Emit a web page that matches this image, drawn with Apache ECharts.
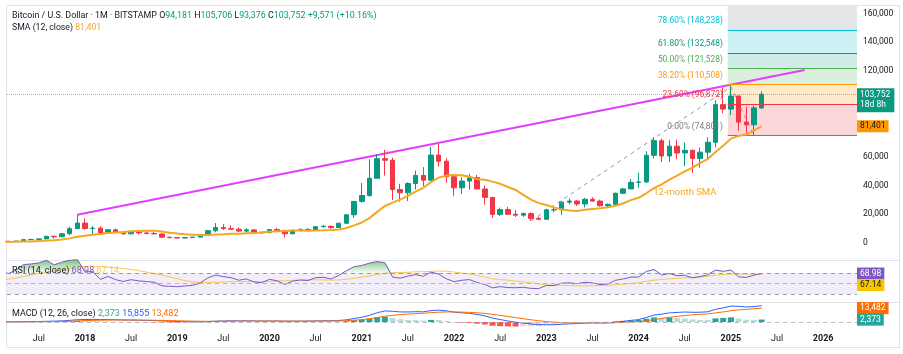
<!DOCTYPE html>
<html>
<head>
<meta charset="UTF-8" />
<title>Bitcoin / U.S. Dollar - 1M</title>
<script src="https://cdn.jsdelivr.net/npm/echarts@6/dist/echarts.min.js"></script>
<style>
  html, body { margin: 0; padding: 0; background: #fff; }
  #main { width: 903px; height: 354px; }
</style>
</head>
<body>
<div id="main"></div>
<script>
// monthly candles, index 0 = Jan 2017 ... index 100 = May 2025
const opens = [
  964, 970, 1190, 1080, 1350, 2300, 2480, 2875, 4720, 4340, 6450, 10000,
  13880, 10100, 10330, 6930, 9240, 7490, 6390, 7730, 7030, 6630, 6320, 4020,
  3740, 3440, 3830, 4100, 5330, 8570, 10820, 10080, 9590, 8290, 9150, 7540,
  7190, 9350, 8540, 6410, 8620, 9450, 9140, 11350, 11650, 10780, 13800, 19700,
  28990, 33100, 45140, 58800, 57700, 37300, 35040, 41460, 47100, 43790, 61300, 57000,
  46200, 38480, 43160, 45540, 37650, 31800, 19930, 23300, 20050, 19420, 20490, 17170,
  16540, 23130, 23150, 28480, 29250, 27220, 30480, 29230, 25940, 26970, 34660, 37720,
  42280, 42580, 61180, 71330, 60670, 67530, 62760, 64620, 58980, 63330, 70220, 96450,
  93390, 102430, 84300, 82400, 94181
];
const highs = [
  1153, 1200, 1280, 1370, 2790, 3000, 2950, 4770, 4980, 6450, 11400, 19666,
  17250, 11790, 11680, 9760, 10000, 7780, 8500, 7760, 7410, 7680, 6600, 4350,
  4070, 4200, 4150, 5600, 9100, 13880, 13200, 12330, 10930, 10370, 9510, 7750,
  9580, 10500, 9190, 9470, 10070, 10380, 11450, 12470, 12070, 14100, 19850, 29300,
  41950, 58350, 61780, 64900, 59500, 41300, 42300, 50500, 52900, 67000, 69000, 59050,
  47990, 45800, 48200, 47450, 40000, 31950, 24650, 25200, 22800, 21100, 21450, 18400,
  23950, 25270, 29200, 31000, 29850, 31430, 31800, 30200, 27500, 35200, 38420, 44700,
  49000, 64000, 73800, 72800, 71980, 72000, 70000, 65100, 66500, 73600, 99600, 108350,
  109350, 102700, 95000, 95700, 105706
];
const lows = [
  752, 915, 890, 1060, 1350, 2100, 1830, 2670, 2950, 4110, 5500, 10000,
  9200, 6000, 6600, 6430, 7050, 5780, 6090, 5880, 6100, 6200, 3650, 3120,
  3350, 3390, 3700, 4080, 5330, 7500, 9070, 9350, 7700, 7300, 6520, 6430,
  6850, 8450, 3850, 6150, 8110, 8900, 8970, 10900, 9880, 10430, 13220, 17600,
  28130, 32300, 45000, 47000, 30000, 28800, 29300, 37330, 39600, 43300, 53250, 42000,
  32900, 34300, 37200, 37700, 26700, 17600, 18800, 19550, 18150, 18200, 15480, 16260,
  16500, 21400, 19560, 26950, 25800, 24800, 28860, 25300, 24900, 26550, 34100, 37600,
  38550, 41880, 59000, 56500, 56550, 58450, 53500, 49000, 52550, 58900, 66800, 90500,
  89200, 78200, 76600, 74700, 93376
];
const closes = [
  970, 1190, 1080, 1350, 2300, 2480, 2875, 4720, 4340, 6450, 10000, 13880,
  10100, 10330, 6930, 9240, 7490, 6390, 7730, 7030, 6630, 6320, 4020, 3740,
  3440, 3830, 4100, 5330, 8570, 10820, 10080, 9590, 8290, 9150, 7540, 7190,
  9350, 8540, 6410, 8620, 9450, 9140, 11350, 11650, 10780, 13800, 19700, 28990,
  33100, 45140, 58800, 57700, 37300, 35040, 41460, 47100, 43790, 61300, 57000, 46200,
  38480, 43160, 45540, 37650, 31800, 19930, 23300, 20050, 19420, 20490, 17170, 16540,
  23130, 23150, 28480, 29250, 27220, 30480, 29230, 25940, 26970, 34660, 37720, 42280,
  42580, 61180, 71330, 60670, 67530, 62760, 64620, 58980, 63330, 70220, 96450, 93390,
  102430, 84300, 82400, 94181, 103752
];
// closes Jan 2014 .. Dec 2016, only used to warm up the indicators
const warmupCloses = [
  800, 550, 450, 445, 630, 640, 585, 480, 387, 338, 378, 320,
  217, 254, 244, 236, 230, 263, 284, 230, 236, 314, 377, 430,
  369, 437, 416, 448, 531, 673, 624, 574, 609, 700, 742, 964
];

const tickLabels = ['Jul', '2018', 'Jul', '2019', 'Jul', '2020', 'Jul', '2021', 'Jul',
  '2022', 'Jul', '2023', 'Jul', '2024', 'Jul', '2025', 'Jul', '2026'];
const priceTicks = [0, 20000, 40000, 60000, 80000, 100000, 120000, 140000, 160000];

// trend-based fib extension
const fibRatios = [0, 0.236, 0.382, 0.5, 0.618, 0.786, 1];
const fibPrices = [74801, 96872, 110508, 121528, 132548, 148238, 168251];
const fibPath = [[70, 15476], [96, 108926], [99, 74801]];
const fibStart = 95.6;
const trendLine = [[11, 19666], [105.6, 120600]];

const rsiLegend = [68.98, 67.14];
const macdLegend = [2373, 15855, 13482];
const timeLeft = '18d 8h';
const smaNote = { text: '12-month SMA', at: [85.9, 34860] };

const xMin = 1.86, xMax = 112.4;
const UP = '#089981', DOWN = '#F23645', TXT = '#131722';
const FONT = 'Roboto, "Noto Sans", sans-serif';
const fmt = (v) => Math.round(v).toLocaleString('en-US');

// ---- indicators ----
const all = warmupCloses.concat(closes);
const off = warmupCloses.length;

function sma(src, n) {
  return src.map((_, i) => {
    if (i < n - 1) return null;
    const w = src.slice(i - n + 1, i + 1);
    if (w.some((v) => v == null)) return null;
    return w.reduce((a, b) => a + b, 0) / n;
  });
}
function ema(src, n) {
  const k = 2 / (n + 1);
  let e = null;
  return src.map((v) => {
    if (v == null) return null;
    e = e == null ? v : v * k + e * (1 - k);
    return e;
  });
}
function rsiCalc(src, n) {
  const out = [null];
  let g = 0, l = 0;
  for (let i = 1; i < src.length; i++) {
    const ch = src[i] - src[i - 1];
    const up = Math.max(ch, 0), dn = Math.max(-ch, 0);
    if (i <= n) {
      g += up / n; l += dn / n;
      out.push(i < n ? null : 100 - 100 / (1 + g / l));
    } else {
      g = (g * (n - 1) + up) / n;
      l = (l * (n - 1) + dn) / n;
      out.push(l === 0 ? 100 : 100 - 100 / (1 + g / l));
    }
  }
  return out;
}

const sma12 = sma(all, 12).slice(off);
const rsiAll = rsiCalc(all, 14);
const rsi = rsiAll.slice(off);
const rsiMa = sma(rsiAll, 14).slice(off);
const ema12 = ema(all, 12), ema26 = ema(all, 26);
const macdAll = ema12.map((v, i) => v - ema26[i]);
const sigAll = ema(macdAll, 9);
const macd = macdAll.slice(off);
const signal = sigAll.slice(off);
const hist = macd.map((v, i) => v - signal[i]);

const xy = (arr) => arr.map((v, i) => [i, v]);
const candles = closes.map((c, i) => [i, opens[i], c, lows[i], highs[i]]);
const histColor = (i) => {
  const h = hist[i], p = i > 0 ? hist[i - 1] : h;
  if (h >= 0) return p < h ? '#26A69A' : '#B2DFDB';
  return p < h ? '#FFCDD2' : '#FF5252';
};

const fibLine = ['#787B86', '#F23645', '#FF9800', '#4CAF50', '#089981', '#00BCD4'];
const fibFill = ['rgba(242,54,69,0.2)', 'rgba(255,152,0,0.2)', 'rgba(76,175,80,0.2)',
  'rgba(8,153,129,0.2)', 'rgba(0,188,212,0.2)', 'rgba(120,123,134,0.2)'];

const xAxisFor = (gi, labels) => ({
  type: 'value', gridIndex: gi, min: xMin, max: xMax,
  axisLine: { show: false }, axisTick: { show: false }, splitLine: { show: false },
  axisLabel: labels ? {
    customValues: tickLabels.map((_, i) => 6 + 6 * i),
    formatter: (v) => {
      const s = tickLabels[Math.round((v - 6) / 6)];
      return s === 'Jul' ? s : '{y|' + s + '}';
    },
    rich: { y: { fontWeight: 'bold', fontSize: 9, color: TXT, fontFamily: FONT } },
    color: TXT, fontSize: 9, fontFamily: FONT, margin: 3
  } : { show: false }
});

const chart = echarts.init(document.getElementById('main'));
chart.setOption({
  animation: false,
  backgroundColor: '#fff',
  grid: [
    { left: 7, right: 46, top: 6, height: 254 },
    { left: 7, right: 46, top: 260, height: 42 },
    { left: 7, right: 46, top: 302, height: 29 }
  ],
  xAxis: [xAxisFor(0, false), xAxisFor(1, false), xAxisFor(2, true)],
  yAxis: [
    {
      type: 'value', gridIndex: 0, position: 'right', min: -11852, max: 165228,
      axisLine: { show: false }, axisTick: { show: false }, splitLine: { show: false },
      axisLabel: { customValues: priceTicks, formatter: fmt, color: TXT, fontSize: 8.5, fontFamily: FONT, margin: 6 }
    },
    { type: 'value', gridIndex: 1, min: 14.76, max: 94.76, show: false, splitLine: { show: false } },
    { type: 'value', gridIndex: 2, min: -8753, max: 19454, show: false, splitLine: { show: false } }
  ],
  series: [
    {
      name: 'fib', type: 'line', xAxisIndex: 0, yAxisIndex: 0, z: 1,
      data: fibPath, symbol: 'none', silent: true,
      lineStyle: { color: '#9598A1', width: 1, type: [4, 4] },
      markArea: {
        silent: true,
        data: fibFill.map((c, i) => [
          { coord: [fibStart, fibPrices[i]], itemStyle: { color: c } },
          { coord: [xMax, fibPrices[i + 1]] }
        ])
      },
      markLine: {
        silent: true, symbol: 'none', label: { show: false },
        data: fibLine.map((c, i) => [
          { coord: [fibStart, fibPrices[i]], lineStyle: { color: c, width: 1, type: 'solid' } },
          { coord: [xMax, fibPrices[i]] }
        ])
      }
    },
    {
      name: 'trend', type: 'line', xAxisIndex: 0, yAxisIndex: 0, z: 3,
      data: trendLine, symbol: 'none', lineStyle: { color: '#E040FB', width: 2 }
    },
    {
      name: 'SMA 12', type: 'line', xAxisIndex: 0, yAxisIndex: 0, z: 5,
      data: xy(sma12), symbol: 'none', lineStyle: { color: '#F5A623', width: 2 }
    },
    {
      name: 'BTCUSD', type: 'candlestick', xAxisIndex: 0, yAxisIndex: 0, z: 4,
      data: candles, encode: { x: 0, y: [1, 2, 3, 4] }, barWidth: 5,
      itemStyle: { color: UP, color0: DOWN, borderColor: UP, borderColor0: DOWN, borderWidth: 1 },
      markLine: {
        silent: true, symbol: 'none', label: { show: false },
        lineStyle: { color: 'rgba(8,153,129,0.55)', type: 'dotted', width: 1 },
        data: [{ yAxis: closes[closes.length - 1] }]
      }
    },
    {
      // overbought fill between 70 and the RSI
      name: 'RSI ob', type: 'line', xAxisIndex: 1, yAxisIndex: 1, z: 2,
      data: rsi.map((v, i) => [i, Math.max(v, 70)]), symbol: 'none', silent: true,
      lineStyle: { opacity: 0 },
      areaStyle: {
        origin: 70, opacity: 1,
        color: new echarts.graphic.LinearGradient(0, 0, 0, 1, [
          { offset: 0, color: 'rgba(56,170,60,0.7)' },
          { offset: 1, color: 'rgba(76,175,80,0.06)' }
        ])
      }
    },
    {
      name: 'RSI', type: 'line', xAxisIndex: 1, yAxisIndex: 1, z: 4,
      data: xy(rsi), symbol: 'none', lineStyle: { color: '#7E57C2', width: 1 },
      markArea: {
        silent: true, itemStyle: { color: 'rgba(126,87,194,0.1)' },
        data: [[{ yAxis: 30 }, { yAxis: 70 }]]
      },
      markLine: {
        silent: true, symbol: 'none', label: { show: false },
        lineStyle: { color: '#9598A1', type: [4, 4], width: 1 },
        data: [{ yAxis: 70 }, { yAxis: 50, lineStyle: { color: '#B2B5BE', type: [4, 4] } }, { yAxis: 30 }]
      }
    },
    {
      name: 'RSI MA', type: 'line', xAxisIndex: 1, yAxisIndex: 1, z: 3,
      data: xy(rsiMa), symbol: 'none', lineStyle: { color: '#F7C948', width: 1 }
    },
    {
      name: 'Histogram', type: 'bar', xAxisIndex: 2, yAxisIndex: 2, barWidth: 6,
      data: hist.map((v, i) => ({ value: [i, v], itemStyle: { color: histColor(i) } })),
      markLine: {
        silent: true, symbol: 'none', label: { show: false },
        lineStyle: { color: '#B2B5BE', type: [4, 4], width: 1 },
        data: [{ yAxis: 0 }]
      }
    },
    {
      name: 'MACD', type: 'line', xAxisIndex: 2, yAxisIndex: 2, z: 4,
      data: xy(macd), symbol: 'none', lineStyle: { color: '#2962FF', width: 1 }
    },
    {
      name: 'Signal', type: 'line', xAxisIndex: 2, yAxisIndex: 2, z: 4,
      data: xy(signal), symbol: 'none', lineStyle: { color: '#FF6D00', width: 1 }
    }
  ]
});

// ---- overlays: legends, level labels, price scale tags ----
const px = (g, p) => chart.convertToPixel({ gridIndex: g }, p);
const last = closes.length - 1;
const chg = closes[last] - closes[last - 1];
const pct = (chg / closes[last - 1] * 100).toFixed(2);
const smaLast = sma12[last];

const g = [];
g.push({ type: 'rect', silent: true, shape: { x: 6.5, y: 5.5, width: 893, height: 342 },
  style: { fill: 'none', stroke: '#E0E3EB', lineWidth: 1 } });
[260.5, 302.5].forEach((y) => g.push({ type: 'line', silent: true,
  shape: { x1: 6.5, y1: y, x2: 899.5, y2: y }, style: { stroke: '#E0E3EB', lineWidth: 1 } }));

const legend = (y, size, text, cols) => {
  const rich = {};
  Object.keys(cols).forEach((k) => { rich[k] = { fill: cols[k], fontSize: size, fontFamily: FONT }; });
  g.push({ type: 'text', x: 12, y: y, silent: true, z: 50,
    style: { text: text, rich: rich, fontSize: size, fontFamily: FONT, fill: TXT, verticalAlign: 'middle' } });
};

legend(16, 8.9,
  '{t|Bitcoin / U.S. Dollar · 1M · BITSTAMP} {t|O}{u|' + fmt(opens[last]) + '} {t|H}{u|' + fmt(highs[last]) +
  '} {t|L}{u|' + fmt(lows[last]) + '} {t|C}{u|' + fmt(closes[last]) + '} {u|+' + fmt(chg) + ' (+' + pct + '%)}',
  { t: TXT, u: UP });
legend(28, 8.7, '{t|SMA (12, close)} {o|' + fmt(smaLast) + '}', { t: TXT, o: '#F5A623' });
legend(271, 9, '{t|RSI (14, close)} {p|' + rsiLegend[0].toFixed(2) + '} {y|' + rsiLegend[1].toFixed(2) + '}',
  { t: TXT, p: '#7E57C2', y: '#F7C948' });
legend(314, 9, '{t|MACD (12, 26, close)} {h|' + fmt(macdLegend[0]) + '} {m|' + fmt(macdLegend[1]) + '} {s|' + fmt(macdLegend[2]) + '}',
  { t: TXT, h: '#26A69A', m: '#2962FF', s: '#FF6D00' });

// fib level labels, left of the box and just above each line
const fx = px(0, [fibStart, 0])[0] - 5;
fibLine.forEach((c, i) => {
  const y = px(0, [fibStart, fibPrices[i]])[1];
  g.push({ type: 'text', x: fx, y: y - 9, silent: true, z: 6,
    style: { text: (fibRatios[i] * 100).toFixed(2) + '% (' + fmt(fibPrices[i]) + ')', fill: c,
      fontSize: 8.4, fontFamily: FONT, align: 'right', verticalAlign: 'middle' } });
});

const note = px(0, smaNote.at);
g.push({ type: 'text', x: note[0], y: note[1], silent: true, z: 6,
  style: { text: smaNote.text, fill: '#F5A623', fontSize: 9.5, fontFamily: FONT, verticalAlign: 'middle' } });

// tags on the price scale
const tag = (y, text, bg, fg) => g.push({ type: 'text', x: 857, y: y, silent: true, z: 60,
  style: { text: text, fill: fg, backgroundColor: bg, padding: [2, 3, 1, 3], fontSize: 8.5, fontFamily: FONT,
    lineHeight: 9, verticalAlign: 'middle' } });

const pY = px(0, [0, closes[last]])[1];
g.push({ type: 'text', x: 857, y: pY - 6, silent: true, z: 60,
  style: { text: fmt(closes[last]) + '\n' + timeLeft, fill: '#fff', backgroundColor: UP, padding: [2, 4, 2, 3],
    fontSize: 8.5, fontFamily: FONT, lineHeight: 10, verticalAlign: 'top' } });
tag(px(0, [0, smaLast])[1], fmt(smaLast), '#FF9800', TXT);

const pair = (gi, vals, texts, bgs, fgs) => {
  let prev = -Infinity;
  vals.forEach((v, i) => {
    let y = px(gi, [0, v])[1];
    if (y < prev + 11.5) y = prev + 11.5;
    prev = y;
    tag(y, texts[i], bgs[i], fgs[i]);
  });
};
pair(1, rsiLegend, rsiLegend.map((v) => v.toFixed(2)), ['#7E57C2', '#F7C600'], ['#fff', TXT]);
pair(2, [macdLegend[2], macdLegend[0]], [fmt(macdLegend[2]), fmt(macdLegend[0])], ['#FF6D00', '#26A69A'], ['#fff', '#fff']);

chart.setOption({ graphic: g });
</script>
</body>
</html>
